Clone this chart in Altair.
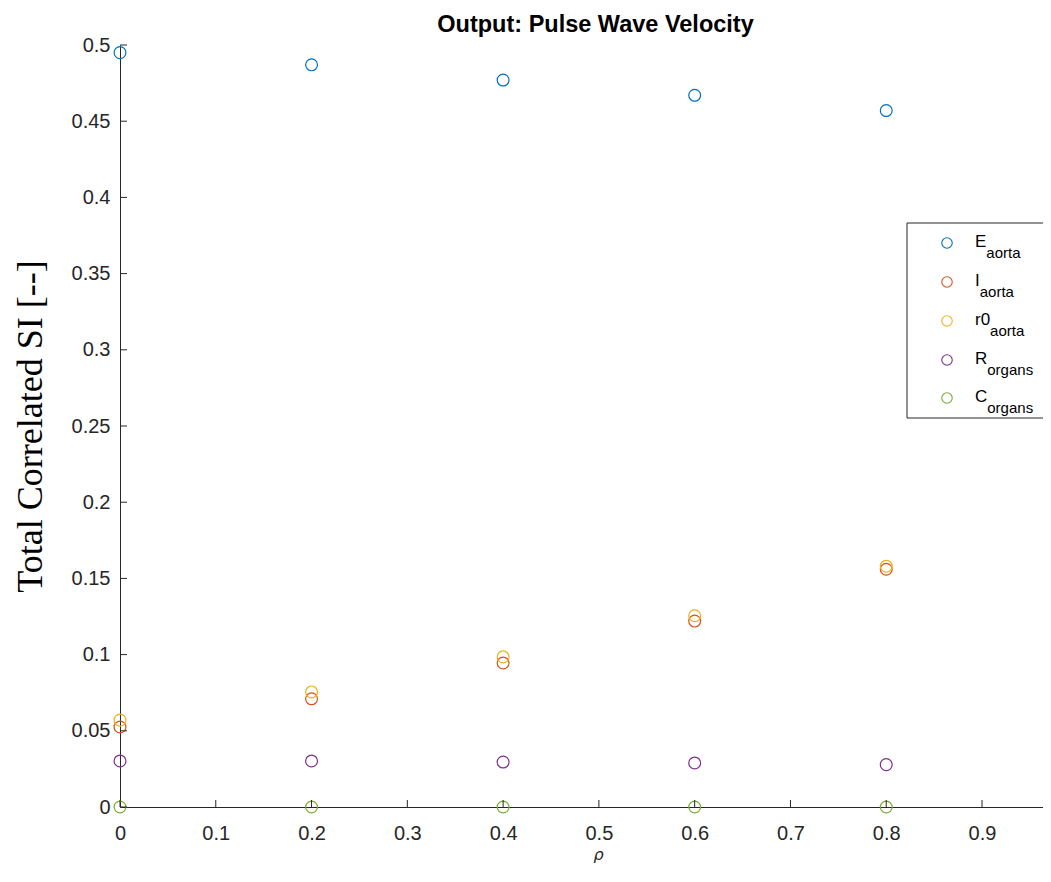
import altair as alt
import pandas as pd

# ---- data ----
rho = [0.0, 0.2, 0.4, 0.6, 0.8]
E_aorta = [0.495, 0.487, 0.477, 0.467, 0.457]
I_aorta = [0.0525, 0.071, 0.0945, 0.122, 0.156]
r0_aorta = [0.057, 0.0755, 0.0985, 0.1255, 0.158]
R_organs = [0.0302, 0.0302, 0.0295, 0.0289, 0.0278]
C_organs = [0.0, 0.0, 0.0, 0.0, 0.0]

series_names = ["E_aorta", "I_aorta", "r0_aorta", "R_organs", "C_organs"]
series_values = [E_aorta, I_aorta, r0_aorta, R_organs, C_organs]
series_colors = ["#0072BD", "#D95319", "#EDB120", "#7E2F8E", "#77AC30"]
legend_main = ["E", "I", "r0", "R", "C"]
legend_sub = ["aorta", "aorta", "aorta", "organs", "organs"]

x_ticks = [0.0, 0.1, 0.2, 0.3, 0.4, 0.5, 0.6, 0.7, 0.8, 0.9]
y_ticks = [0.0, 0.05, 0.1, 0.15, 0.2, 0.25, 0.3, 0.35, 0.4, 0.45, 0.5]

title_text = "Output: Pulse Wave Velocity"
x_title = "ρ"
y_title = "Total Correlated SI [--]"

# ---- layout ----
W, H = 923, 762
X_MAX = W / 957.8
AX = "#262626"
SANS = "Liberation Sans"

rows = []
for name, vals in zip(series_names, series_values):
    for xv, yv in zip(rho, vals):
        rows.append({"rho": xv, "SI": yv, "series": name})
df = pd.DataFrame(rows)

xscale = alt.Scale(domain=[0, X_MAX], nice=False, zero=False)
yscale = alt.Scale(domain=[0, 0.5], nice=False)

points = alt.Chart(df).mark_point(
    shape="circle", filled=False, size=140, strokeWidth=1.2, opacity=1
).encode(
    x=alt.X("rho:Q", scale=xscale,
            axis=alt.Axis(values=x_ticks, format=".1~f", ticks=False, grid=False,
                          domainColor=AX, domainWidth=1, labelColor=AX,
                          labelFont=SANS, labelFontSize=20, labelPadding=16,
                          title=x_title, titleFont="DejaVu Sans", titleFontStyle="italic",
                          titleFontWeight="normal", titleFontSize=16, titleColor=AX,
                          titleX=478, titleY=52, titleAlign="center",
                          titleBaseline="alphabetic", labelFlush=False)),
    y=alt.Y("SI:Q", scale=yscale,
            axis=alt.Axis(values=y_ticks, format=".2~f", ticks=False, grid=False,
                          domainColor=AX, domainWidth=1, labelColor=AX,
                          labelFont=SANS, labelFontSize=20, labelPadding=10,
                          title=y_title, titleFont="Liberation Serif", titleFontSize=36,
                          titleFontWeight="normal", titleColor="black",
                          titleAngle=270, titleX=-79, titleY=381, titleAlign="center",
                          titleBaseline="alphabetic", labelFlush=False)),
    color=alt.Color("series:N", scale=alt.Scale(domain=series_names, range=series_colors),
                    legend=None),
)

# inward tick marks (MATLAB style)
xt = alt.Chart(pd.DataFrame({"v": x_ticks})).mark_rule(color=AX, strokeWidth=1).encode(
    x=alt.X("v:Q", scale=xscale), y=alt.value(H), y2=alt.value(H - 7))
yt = alt.Chart(pd.DataFrame({"v": y_ticks})).mark_rule(color=AX, strokeWidth=1).encode(
    y=alt.Y("v:Q", scale=yscale), x=alt.value(0), x2=alt.value(7))

one = pd.DataFrame({"a": [0]})
layers = [points, xt, yt]

# custom legend (box partly outside the visible area, as in the reference)
LX, LY0, LY1 = 787, 178, 373
layers.append(alt.Chart(one).mark_rect(fill="white", stroke=AX, strokeWidth=1).encode(
    x=alt.value(LX), x2=alt.value(LX + 250), y=alt.value(LY0), y2=alt.value(LY1)))

entry_y = [198, 237, 276, 315, 353]
char_w = {"E": 0.667, "I": 0.278, "r": 0.333, "0": 0.556, "R": 0.722, "C": 0.722}
MAIN_FS, SUB_FS = 17, 15
for name, col, m, s, ey in zip(series_names, series_colors, legend_main, legend_sub, entry_y):
    layers.append(alt.Chart(one).mark_point(
        shape="circle", filled=False, size=110, strokeWidth=1.1, color=col, opacity=1
    ).encode(x=alt.value(827), y=alt.value(ey)))
    mx = 855
    layers.append(alt.Chart(one).mark_text(
        text=m, font=SANS, fontSize=MAIN_FS, color="black", align="left", baseline="alphabetic"
    ).encode(x=alt.value(mx), y=alt.value(ey + 4)))
    w = sum(char_w.get(c, 0.556) for c in m) * MAIN_FS
    layers.append(alt.Chart(one).mark_text(
        text=s, font=SANS, fontSize=SUB_FS, color="black", align="left", baseline="alphabetic"
    ).encode(x=alt.value(mx + w), y=alt.value(ey + 15)))

chart = alt.layer(*layers).properties(
    width=W, height=H,
    background="white",
    title=alt.TitleParams(title_text, font=SANS, fontSize=23.5, fontWeight="bold",
                          color="black", anchor="middle", frame="group", dx=14,
                          baseline="alphabetic", offset=11, dy=31),
    autosize=alt.AutoSizeParams(type="none"),
    padding={"left": 112, "top": 37, "right": 0, "bottom": 59},
).configure_view(strokeWidth=0, stroke=None)

chart.save("out.html", embed_options={"renderer": "svg", "actions": False})
